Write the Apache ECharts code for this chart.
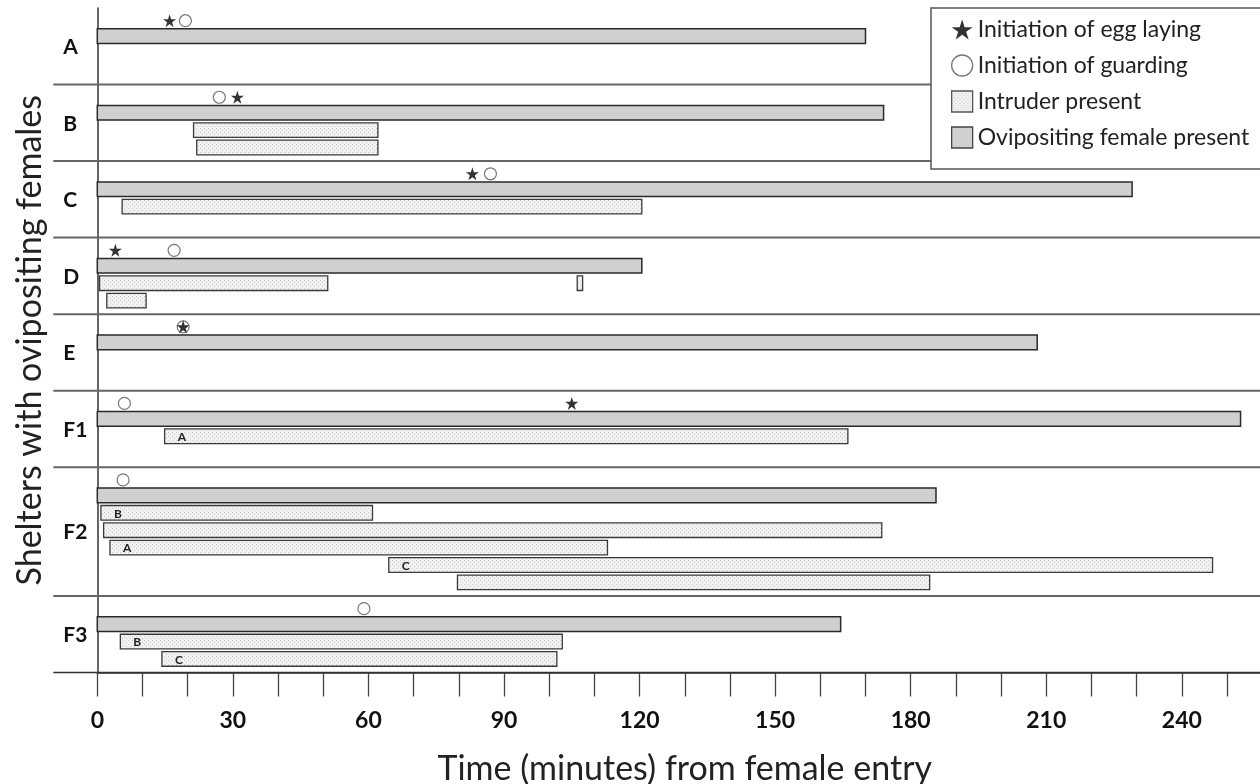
<!DOCTYPE html>
<html>
<head>
<meta charset="utf-8">
<script src="https://cdn.jsdelivr.net/npm/echarts@6/dist/echarts.min.js"></script>
<style>html,body{margin:0;padding:0;background:#fff}#c{width:1260px;height:784px}</style>
</head>
<body>
<div id="c"></div>
<script>
// ---------- data ----------
const shelters = ['A', 'B', 'C', 'D', 'E', 'F1', 'F2', 'F3'];
// ovipositing female present: from 0 to end (minutes)
const femaleEnd = [170, 174, 229, 120.5, 208, 253, 185.6, 164.5];
// initiation of egg laying (minutes); null = not observed
const eggLaying = [16, 31, 83, 4, 19, 105, null, null];
// initiation of guarding (minutes)
const guarding = [19.5, 27, 87, 17, 19, 6, 5.7, 59];
// intruder present: shelter index, intruder order, start, end, intruder id
const intruderShelter = [1, 1, 2, 3, 3, 3, 5, 6, 6, 6, 6, 6, 7, 7];
const intruderOrder   = [1, 2, 1, 1, 2, 1, 1, 1, 2, 3, 4, 5, 1, 2];
const intruderStart   = [21.3, 22, 5.5, 0.5, 2.1, 106.2, 14.9, 0.8, 1.4, 2.8, 64.5, 79.7, 5.1, 14.3];
const intruderEnd     = [62.1, 62.1, 120.5, 51, 10.8, 107.4, 166.1, 60.9, 173.6, 112.9, 246.8, 184.2, 102.9, 101.7];
const intruderId      = ['', '', '', '', '', '', 'A', 'B', '', 'A', 'C', '', 'B', 'C'];
const xTicks = [0, 30, 60, 90, 120, 150, 180, 210, 240];

// ---------- layout (row sizes in lane units) ----------
const FONT = 'Lato, "Open Sans", sans-serif';
const nLanes = shelters.map((_, i) => {
  let m = 0;
  intruderShelter.forEach((s, k) => { if (s === i) m = Math.max(m, intruderOrder[k]); });
  return m;
});
const GRAY_OFF = 1.62, MARK_OFF = 0.73, HALF = 0.42;
const rowH = nLanes.map(n => Math.max(4.4, GRAY_OFF + n + 0.78));
const rowTop = [];
let acc = 0;
rowH.forEach(h => { rowTop.push(acc); acc += h; });
const TOTAL = acc;

const femaleData = shelters.map((s, i) => [0, femaleEnd[i], rowTop[i] + GRAY_OFF, i]);
const intruderData = intruderShelter.map((s, k) =>
  [intruderStart[k], intruderEnd[k], rowTop[s] + GRAY_OFF + intruderOrder[k], intruderId[k]]);
const eggData = [], guardData = [];
shelters.forEach((s, i) => {
  if (eggLaying[i] != null) eggData.push([eggLaying[i], rowTop[i] + MARK_OFF]);
  if (guarding[i] != null) guardData.push([guarding[i], rowTop[i] + MARK_OFF]);
});
const rowData = shelters.map((s, i) => [0, rowTop[i], rowTop[i] + rowH[i], i]);

// stipple pattern for intruder bars
const pc = document.createElement('canvas');
pc.width = 4; pc.height = 4;
const g = pc.getContext('2d');
g.fillStyle = '#f1f1f1'; g.fillRect(0, 0, 4, 4);
g.fillStyle = '#cdcdcd'; g.fillRect(0, 0, 1, 1); g.fillRect(2, 2, 1, 1);
const stipple = { image: pc, repeat: 'repeat' };
const GRAY = '#d0d0d0';
const STAR = 'path://M50,0 L61.2,34.5 L97.6,34.5 L68.2,55.9 L79.4,90.5 L50,69.1 L20.6,90.5 L31.8,55.9 L2.4,34.5 L38.8,34.5 Z';

function barRender(isIntruder) {
  return function (params, api) {
    const yc = api.value(2);
    const p0 = api.coord([api.value(0), yc - HALF]);
    const p1 = api.coord([api.value(1), yc + HALF]);
    const x = p0[0], y = Math.min(p0[1], p1[1]);
    const w = Math.max(p1[0] - p0[0], 3), h = Math.abs(p1[1] - p0[1]);
    const children = [{
      type: 'rect',
      shape: { x: x, y: y, width: w, height: h },
      style: isIntruder
        ? { fill: stipple, stroke: '#3a3a3a', lineWidth: 1.3 }
        : { fill: GRAY, stroke: '#2a2a2a', lineWidth: 1.5 }
    }];
    if (isIntruder) {
      const lab = api.value(3);
      if (lab) {
        children.push({
          type: 'text',
          style: {
            text: lab, x: x + 13, y: y + h / 2 + 1,
            font: 'bold 12px ' + FONT, fill: '#222',
            align: 'left', verticalAlign: 'middle',
            textAlign: 'left', textVerticalAlign: 'middle'
          }
        });
      }
    }
    return { type: 'group', children: children };
  };
}

const chart = echarts.init(document.getElementById('c'));
chart.setOption({
  backgroundColor: '#fff',
  animation: false,
  grid: { left: 97.3, right: -12.2, top: 8, bottom: 111.5, containLabel: false, outerBoundsMode: 'none' },
  xAxis: {
    type: 'value', min: 0, max: 260, interval: 10, position: 'bottom',
    axisLine: { show: true, onZero: false, lineStyle: { color: '#333', width: 1.5 } },
    axisTick: { show: true, length: 24, lineStyle: { color: '#444', width: 1.3 } },
    axisLabel: {
      margin: 37, fontSize: 23, fontWeight: 'bold', fontFamily: FONT, color: '#111',
      formatter: v => (xTicks.indexOf(v) >= 0 ? String(v) : '')
    },
    splitLine: { show: false },
    name: 'Time (minutes) from female entry',
    nameLocation: 'middle', nameGap: 80,
    nameTextStyle: { fontSize: 34, fontFamily: FONT, color: '#222' }
  },
  yAxis: {
    type: 'value', min: 0, max: TOTAL, inverse: true,
    axisLine: { show: true, onZero: false, lineStyle: { color: '#333', width: 1.5 } },
    axisTick: { show: false }, axisLabel: { show: false }, splitLine: { show: false },
    name: 'Shelters with ovipositing females',
    nameLocation: 'middle', nameGap: 67, nameRotate: 90,
    nameTextStyle: { fontSize: 34, fontFamily: FONT, color: '#222', verticalAlign: 'middle' }
  },
  legend: {
    orient: 'vertical', left: 931, top: 8,
    padding: [10, 60, 20, 20],
    itemWidth: 21, itemHeight: 21, itemGap: 13,
    borderColor: '#555', borderWidth: 1.5, backgroundColor: '#fff',
    selectedMode: false,
    textStyle: { fontSize: 23, fontFamily: FONT, color: '#222', lineHeight: 21 },
    data: [
      { name: 'Initiation of egg laying', icon: STAR, itemStyle: { color: '#000', borderWidth: 0 } },
      { name: 'Initiation of guarding', icon: 'circle', itemStyle: { color: '#fff', borderColor: '#555', borderWidth: 1.3 } },
      { name: 'Intruder present', icon: 'rect', itemStyle: { color: stipple, borderColor: '#555', borderWidth: 1.3 } },
      { name: 'Ovipositing female present', icon: 'rect', itemStyle: { color: GRAY, borderColor: '#444', borderWidth: 1.3 } }
    ]
  },
  series: [
    {
      type: 'custom', name: 'rows', silent: true, clip: false,
      encode: { x: 0, y: [1, 2] },
      data: rowData,
      renderItem: function (params, api) {
        const i = api.value(3);
        const yb = api.coord([0, api.value(2)])[1];
        const yt = api.coord([0, api.value(1)])[1];
        const ax = api.coord([0, 0])[0];
        const last = i === shelters.length - 1;
        return {
          type: 'group',
          children: [
            {
              type: 'line',
              shape: { x1: ax - 44, y1: yb, x2: api.getWidth(), y2: yb },
              style: { stroke: last ? '#333' : '#666', lineWidth: last ? 1.5 : 2 }
            },
            {
              type: 'text',
              style: {
                text: shelters[i], x: ax - 34, y: (yt + yb) / 2 + 1,
                font: 'bold 21px ' + FONT, fill: '#111',
                align: 'left', verticalAlign: 'middle',
                textAlign: 'left', textVerticalAlign: 'middle'
              }
            }
          ]
        };
      }
    },
    {
      type: 'custom', name: 'Ovipositing female present',
      encode: { x: [0, 1], y: 2 },
      itemStyle: { color: GRAY },
      data: femaleData,
      renderItem: barRender(false)
    },
    {
      type: 'custom', name: 'Intruder present',
      encode: { x: [0, 1], y: 2 },
      itemStyle: { color: '#eee' },
      data: intruderData,
      renderItem: barRender(true)
    },
    {
      type: 'scatter', name: 'Initiation of guarding',
      symbol: 'circle', symbolSize: 12,
      itemStyle: { color: '#fff', borderColor: '#555', borderWidth: 1.2 },
      data: guardData, z: 3
    },
    {
      type: 'scatter', name: 'Initiation of egg laying',
      symbol: STAR, symbolSize: 13,
      itemStyle: { color: '#000' },
      data: eggData, z: 4
    }
  ]
});
</script>
</body>
</html>
